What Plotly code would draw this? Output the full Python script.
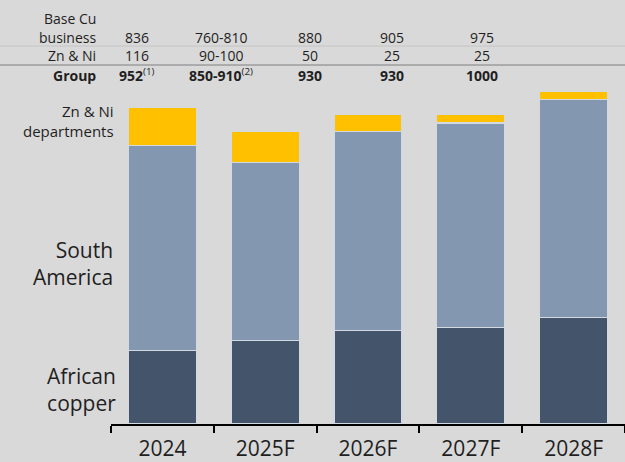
import plotly.graph_objects as go

# Production outlook by business (kt copper-equivalent)
categories = ["2024", "2025F", "2026F", "2027F", "2028F"]
african_copper = [222, 250, 280, 290, 320]
south_america = [614, 535, 600, 615, 655]
zn_ni = [116, 95, 50, 25, 25]

# Summary table above the chart
base_cu_text = ["836", "760-810", "880", "905", "975"]
zn_ni_text = ["116", "90-100", "50", "25", "25"]
group_text = ["952", "850-910", "930", "930", "1000"]
group_notes = ["(1)", "(2)", "", "", ""]

W, H = 625, 462
ML, MB = 111, 38
PW, PH = W - ML, H - MB
Y_MAX = 1274.4

FONT = "Open Sans"
INK = "#1f1f1f"
BG = "#D9D9D9"

def px_x(px):
    return (px - ML) / PW

def px_y(py):
    return (PH - py) / PH

fig = go.Figure()
seg_line = dict(color="#d3d9e0", width=1.2)
fig.add_bar(x=categories, y=african_copper, name="African copper",
            marker=dict(color="#44546A", line=seg_line), width=0.66)
fig.add_bar(x=categories, y=south_america, name="South America",
            marker=dict(color="#8497B0", line=seg_line), width=0.66)
fig.add_bar(x=categories, y=zn_ni, name="Zn & Ni departments",
            marker=dict(color="#FFC000", line=seg_line), width=0.66)

ann = []
# Left-side series labels
ann.append(dict(x=px_x(116), y=px_y(121), text="Zn & Ni<br>departments",
                font=dict(size=15, color=INK, family=FONT)))
ann.append(dict(x=px_x(115), y=px_y(263), text="South<br>America",
                font=dict(size=21, color=INK, family=FONT)))
ann.append(dict(x=px_x(118), y=px_y(389), text="African<br>copper",
                font=dict(size=21, color=INK, family=FONT)))
for a in ann:
    a.update(xref="paper", yref="paper", xanchor="right", yanchor="middle",
             align="right", showarrow=False)

# Table row labels
row_label_x = px_x(98)
table = [
    ("Base Cu", 18),
    ("business", 37),
    ("Zn & Ni", 56),
    ("<b>Group</b>", 75),
]
for txt, py in table:
    ann.append(dict(x=row_label_x, y=px_y(py), text=txt, xref="paper", yref="paper",
                    xanchor="right", yanchor="middle", showarrow=False,
                    font=dict(size=14, color=INK, family=FONT)))

col_x = [137, 221, 310, 392, 482]
for i, cx in enumerate(col_x):
    ann.append(dict(x=px_x(cx), y=px_y(37), text=base_cu_text[i], xref="paper", yref="paper",
                    xanchor="center", yanchor="middle", showarrow=False,
                    font=dict(size=14, color=INK, family=FONT)))
    ann.append(dict(x=px_x(cx), y=px_y(56), text=zn_ni_text[i], xref="paper", yref="paper",
                    xanchor="center", yanchor="middle", showarrow=False,
                    font=dict(size=14, color=INK, family=FONT)))
    g = f"<b>{group_text[i]}</b>"
    if group_notes[i]:
        g += f"<sup>{group_notes[i]}</sup>"
    ann.append(dict(x=px_x(cx), y=px_y(75), text=g, xref="paper", yref="paper",
                    xanchor="center", yanchor="middle", showarrow=False,
                    font=dict(size=14, color=INK, family=FONT)))

shapes = [
    dict(type="line", xref="paper", yref="paper", x0=px_x(0), x1=1,
         y0=px_y(46), y1=px_y(46), line=dict(color="#c4c4c4", width=1)),
    dict(type="line", xref="paper", yref="paper", x0=px_x(0), x1=1,
         y0=px_y(65), y1=px_y(65), line=dict(color="#7f7f7f", width=1)),
]

fig.update_layout(
    barmode="stack",
    width=W, height=H,
    margin=dict(l=ML, r=0, t=0, b=MB, autoexpand=False),
    paper_bgcolor=BG, plot_bgcolor=BG,
    showlegend=False,
    annotations=ann,
    shapes=shapes,
    font=dict(family=FONT, color=INK),
)
fig.update_xaxes(
    type="category", range=[-0.5, 4.5], automargin=False,
    showline=True, linecolor="#000000", linewidth=2,
    ticks="outside", tickson="boundaries", ticklen=7, tickwidth=2, tickcolor="#000000",
    tickfont=dict(size=21, color=INK, family=FONT), ticklabelstandoff=5,
    showgrid=False, zeroline=False, fixedrange=True,
)
fig.update_yaxes(range=[0, Y_MAX], visible=False, showgrid=False, zeroline=False,
                 automargin=False)

fig.write_html("out.html")
